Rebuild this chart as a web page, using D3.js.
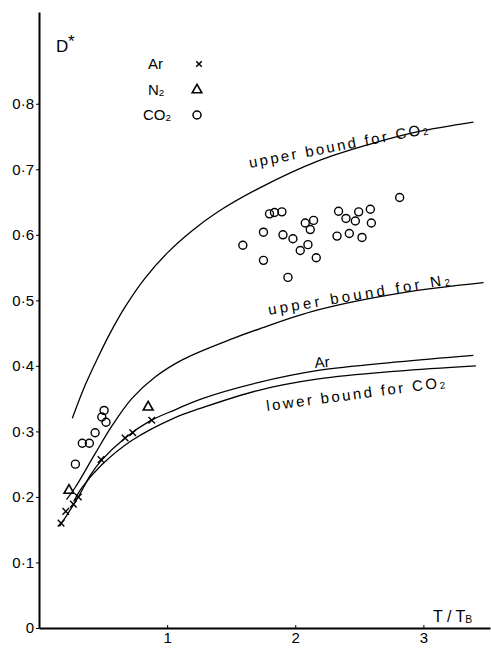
<!DOCTYPE html>
<html>
<head>
<meta charset="utf-8">
<script src="https://cdn.jsdelivr.net/npm/d3@7"></script>
<style>
  body { margin: 0; background: #fff; }
  svg { display: block; font-family: "Liberation Sans", Arial, sans-serif; }
</style>
</head>
<body>
<svg id="drawing_region"></svg>
<script>
// curves: [T/TB, D*]
const upper_co2 = [[0.260,0.320],[0.359,0.370],[0.463,0.414],[0.555,0.450],[0.672,0.490],[0.828,0.534],[1.010,0.574],[1.20,0.607],[1.388,0.634],[1.727,0.672],[2.17,0.712],[2.56,0.737],[2.95,0.757],[3.39,0.772]];
const upper_n2 = [[0.215,0.196],[0.281,0.214],[0.438,0.266],[0.568,0.308],[0.724,0.350],[0.906,0.383],[1.125,0.410],[1.516,0.442],[1.727,0.457],[2.17,0.485],[2.82,0.511],[3.47,0.527]];
const ar_curve = [[0.16,0.155],[0.307,0.200],[0.40,0.233],[0.484,0.255],[0.672,0.290],[0.867,0.316],[1.062,0.333],[1.258,0.349],[1.70,0.374],[2.18,0.393],[2.80,0.406],[3.39,0.416]];
const lower_co2 = [[0.27,0.193],[0.334,0.214],[0.49,0.249],[0.724,0.286],[1.062,0.321],[1.258,0.335],[1.70,0.362],[2.18,0.380],[2.80,0.392],[3.41,0.400]];

// measured points
const ar_points = [[0.172,0.160],[0.209,0.178],[0.268,0.189],[0.307,0.200],[0.484,0.257],[0.672,0.290],[0.732,0.298],[0.880,0.317]];
const n2_points = [[0.234,0.210],[0.852,0.337]];
const co2_points = [
  [0.284,0.250],[0.338,0.282],[0.393,0.282],[0.438,0.298],[0.490,0.322],[0.508,0.332],[0.523,0.314],
  [1.591,0.584],[1.799,0.632],[1.838,0.634],[1.896,0.635],[1.752,0.604],[1.752,0.561],[1.904,0.600],
  [1.982,0.594],[1.943,0.535],[2.078,0.618],[2.143,0.622],[2.117,0.608],[2.099,0.585],[2.039,0.576],
  [2.164,0.565],[2.338,0.636],[2.396,0.625],[2.469,0.621],[2.495,0.635],[2.586,0.639],[2.594,0.618],
  [2.326,0.598],[2.422,0.602],[2.521,0.596],[2.815,0.657]
];

const y_ticks = [0, 0.1, 0.2, 0.3, 0.4, 0.5, 0.6, 0.7, 0.8];
const y_tick_labels = ["0", "0·1", "0·2", "0·3", "0·4", "0·5", "0·6", "0·7", "0·8"];
const x_ticks = [1, 2, 3];
const x_tick_labels = ["1", "2", "3"];

class GasChart {

    constructor( config ) {
        this.config = {
            parent: config.parent,
            width: config.width || 491,
            height: config.height || 648,
            margin: config.margin || {top:12, right:1, bottom:20, left:39}
        }
        this.init();
    }

    init() {
        let self = this;

        self.svg = d3.select( self.config.parent )
            .attr('width', self.config.width)
            .attr('height', self.config.height);

        self.chart = self.svg.append('g')
            .attr('transform', `translate(${self.config.margin.left}, ${self.config.margin.top})`);

        self.inner_width = self.config.width - self.config.margin.left - self.config.margin.right;
        self.inner_height = self.config.height - self.config.margin.top - self.config.margin.bottom;

        self.xscale = d3.scaleLinear()
            .domain([0, 3.52])
            .range([0, self.inner_width]);

        self.yscale = d3.scaleLinear()
            .domain([0, 0.94])
            .range([self.inner_height, 0]);

        self.line = d3.line()
            .x(d => self.xscale(d[0]))
            .y(d => self.yscale(d[1]))
            .curve(d3.curveCatmullRom.alpha(0.5));
    }

    render() {
        let self = this;

        // axes
        const xaxis = d3.axisBottom(self.xscale)
            .tickValues(x_ticks)
            .tickFormat((d, i) => x_tick_labels[i])
            .tickSize(-3)
            .tickPadding(4)
            .tickSizeOuter(0);

        const yaxis = d3.axisLeft(self.yscale)
            .tickValues(y_ticks)
            .tickFormat((d, i) => y_tick_labels[i])
            .tickSize(3)
            .tickPadding(2)
            .tickSizeOuter(0);

        const xg = self.chart.append('g')
            .attr('transform', `translate(0, ${self.inner_height})`)
            .call(xaxis);
        const yg = self.chart.append('g').call(yaxis);

        [xg, yg].forEach(g => {
            g.select('.domain').attr('stroke', '#000').attr('stroke-width', 2);
            g.selectAll('.tick line').attr('stroke', '#000').attr('stroke-width', 1);
            g.selectAll('.tick text')
                .attr('fill', '#000')
                .attr('font-size', 15)
                .attr('font-family', '"Liberation Sans", Arial, sans-serif');
        });

        // curves
        [upper_co2, upper_n2, ar_curve, lower_co2].forEach(c => {
            self.chart.append('path')
                .attr('d', self.line(c))
                .attr('fill', 'none')
                .attr('stroke', '#000')
                .attr('stroke-width', 1.3);
        });

        // CO2 circles
        self.chart.selectAll('.co2')
            .data(co2_points)
            .join('circle')
            .attr('class', 'co2')
            .attr('cx', d => self.xscale(d[0]))
            .attr('cy', d => self.yscale(d[1]))
            .attr('r', 4)
            .attr('fill', 'none')
            .attr('stroke', '#000')
            .attr('stroke-width', 1.4);

        // N2 triangles
        const tri = d3.symbol().type(d3.symbolTriangle).size(42);
        self.chart.selectAll('.n2')
            .data(n2_points)
            .join('path')
            .attr('class', 'n2')
            .attr('d', tri)
            .attr('transform', d => `translate(${self.xscale(d[0])}, ${self.yscale(d[1])})`)
            .attr('fill', 'none')
            .attr('stroke', '#000')
            .attr('stroke-width', 1.6);

        // Ar crosses
        const cross = d3.symbol().type(d3.symbolX).size(30);
        self.chart.selectAll('.ar')
            .data(ar_points)
            .join('path')
            .attr('class', 'ar')
            .attr('d', cross)
            .attr('transform', d => `translate(${self.xscale(d[0])}, ${self.yscale(d[1])})`)
            .attr('fill', 'none')
            .attr('stroke', '#000')
            .attr('stroke-width', 1.4);

        self.labels();
    }

    labels() {
        let self = this;
        const svg = self.svg;

        const sub_text = (x, y, angle, main, sub, size, len) => {
            const t = svg.append('text')
                .attr('transform', `translate(${x}, ${y}) rotate(${angle})`)
                .attr('font-size', size)
                .attr('fill', '#000');
            t.append('tspan').text(main);
            if (sub) {
                t.append('tspan').attr('font-size', size * 0.65).attr('dy', 1).text(sub);
            }
            if (len) t.attr('textLength', len).attr('lengthAdjust', 'spacing');
            return t;
        };

        // axis titles
        svg.append('text').attr('x', 56).attr('y', 52).attr('font-size', 17).text('D');
        svg.append('text').attr('x', 68).attr('y', 47).attr('font-size', 17).text('*');
        sub_text(433, 622, 0, 'T / T', 'B', 16, null);

        // legend
        sub_text(148, 69, 0, 'Ar', null, 15, null);
        sub_text(148, 95, 0, 'N', '2', 15, null);
        sub_text(143, 120, 0, 'CO', '2', 15, null);
        svg.append('path')
            .attr('d', d3.symbol().type(d3.symbolX).size(22)())
            .attr('transform', 'translate(199, 64)')
            .attr('fill', 'none').attr('stroke', '#000').attr('stroke-width', 1.5);
        svg.append('path')
            .attr('d', d3.symbol().type(d3.symbolTriangle).size(40)())
            .attr('transform', 'translate(197, 90)')
            .attr('fill', 'none').attr('stroke', '#000').attr('stroke-width', 1.6);
        svg.append('circle')
            .attr('cx', 197).attr('cy', 115).attr('r', 4)
            .attr('fill', 'none').attr('stroke', '#000').attr('stroke-width', 1.5);

        // curve labels
        sub_text(250, 168, -10.9, 'upper bound for CO', '2', 15, 182);
        sub_text(269, 315, -9.6, 'upper bound for N', '2', 15, 184);
        sub_text(315, 368, -5, 'Ar', null, 15, null);
        sub_text(267, 411, -7.6, 'lower bound for CO', '2', 15, 180);
    }
}

const chart = new GasChart({ parent: '#drawing_region', width: 491, height: 648 });
chart.render();
</script>
</body>
</html>
